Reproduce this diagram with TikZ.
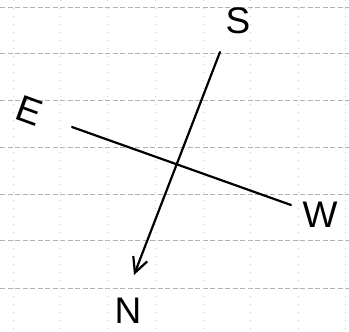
\documentclass[tikz,border=0pt]{standalone}
\usepackage{fontspec}
\setmainfont{Liberation Sans}
\usetikzlibrary{arrows.meta}
\begin{document}
\begin{tikzpicture}[x=1pt,y=-1pt,
  hgrid/.style={gray!60,line width=0.6pt,dash pattern=on 5pt off 2.5pt},
  vgrid/.style={gray!40,line width=0.6pt,dash pattern=on 1pt off 7pt},
  stroke/.style={black,line width=2.2pt,line cap=round},
  letter/.style={inner sep=0pt,font=\fontsize{37}{37}\selectfont}]
\useasboundingbox (0,0) rectangle (349,332);
\fill[white] (0,0) rectangle (349,332);
% grid
\foreach \y in {7,53,100,147,194,240,288}
  \draw[hgrid] (0,\y) -- (349,\y);
\foreach \x in {13,60,107,155,203,250,298,345}
  \draw[vgrid] (\x,0) -- (\x,332);
% endpoints
\coordinate (sEnd) at (220,52);
\coordinate (nEnd) at (134,275);
\coordinate (eEnd) at (72,127);
\coordinate (wEnd) at (291,205);
% lines
\draw[stroke] (eEnd) -- (wEnd);
\draw[stroke,-{Straight Barb[length=15pt,width=15pt,line width=2.2pt]}] (sEnd) -- (nEnd);
% labels
\node[letter] (S) at (238,21) {S};
\node[letter,rotate=-20] (E) at (29,111) {E};
\node[letter] (W) at (320,215) {W};
\node[letter] (N) at (128,311) {N};
\end{tikzpicture}
\end{document}
